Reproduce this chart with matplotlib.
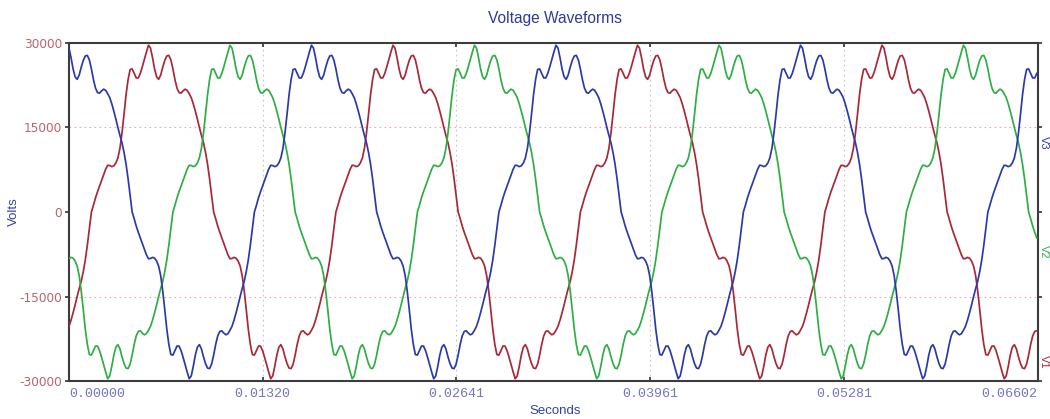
import numpy as np
import matplotlib
matplotlib.use("Agg")
import matplotlib.pyplot as plt

# One half cycle of the phase voltage (V), sampled every 3 electrical degrees
# starting at the rising zero crossing; the second half is the mirror image.
step_deg = 3
half_cycle_volts = [
    0, 1200, 2500, 3600, 4600, 5600, 6600, 7600, 8300, 8250,
    8050, 8200, 8700, 9600, 11300, 14000, 17300, 20800, 23500, 25300,
    25400, 24600, 23800, 23800, 24600, 25800, 27100, 28400, 29600, 29100,
    27400, 25400, 24000, 23550, 24300, 25700, 26900, 27700, 27800, 27000,
    25400, 23500, 22000, 21200, 21100, 21500, 21800, 21600, 21000, 20300,
    19200, 17900, 16500, 15000, 13600, 12300, 10600, 8500, 5900, 3000,
]
freq_hz = 60.0
t_end = 0.066022

# Electrical angle of each phase at t = 0 (degrees)
phase_names = ["V1", "V2", "V3"]
phase_start_deg = [-33, -153, 87]
phase_colors = ["#a8283a", "#2fae45", "#2c3aa8"]

y_ticks = [-30000, -15000, 0, 15000, 30000]
x_tick_labels = ["0.00000", "0.01320", "0.02641", "0.03961", "0.05281", "0.06602"]

# ---- build series --------------------------------------------------------
half = np.array(half_cycle_volts, dtype=float)
cycle = np.concatenate([half, -half])
n_cycle = len(cycle)
dt = 1.0 / (freq_hz * n_cycle)
n = int(t_end / dt) + 1
t = np.arange(n) * dt
k = np.arange(n)

series = {}
for name, start in zip(phase_names, phase_start_deg):
    idx = (k + start // step_deg) % n_cycle
    series[name] = cycle[idx]

# ---- figure ---------------------------------------------------------------
W, H = 1050, 419
fig = plt.figure(figsize=(W / 100, H / 100), dpi=100)
ax_left, ax_right, ax_top, ax_bottom = 69, 1037.5, 43, 381
ax = fig.add_axes([ax_left / W, 1 - ax_bottom / H,
                   (ax_right - ax_left) / W, (ax_bottom - ax_top) / H])

for name, color in zip(phase_names, phase_colors):
    ax.plot(t, series[name], color=color, lw=1.25, solid_joinstyle="round", zorder=3)

ax.set_xlim(0, t_end)
ax.set_ylim(-30000, 30000)

xt = np.linspace(0, t_end, len(x_tick_labels))
ax.set_xticks(xt)
ax.set_xticklabels(x_tick_labels, family="Liberation Mono", fontsize=9.6,
                   color="#7474c6")
labels = ax.get_xticklabels()
labels[0].set_ha("left")
labels[-1].set_ha("right")

ax.set_yticks(y_ticks)
ax.set_yticklabels([str(v) for v in y_ticks], family="DejaVu Sans",
                   fontsize=8.7, color="#b9636f")

ax.tick_params(axis="x", direction="in", length=3, width=1.2, pad=5,
               top=True, color="#333333")
ax.tick_params(axis="y", direction="out", length=3, width=1.2, pad=2,
               color="#333333")
ax.tick_params(axis="y", which="both", right=True)
# right-hand ticks point inward
for tl in ax.yaxis.get_ticklines()[1::2]:
    tl.set_marker(matplotlib.lines.TICKRIGHT)

for sp in ax.spines.values():
    sp.set_color("#3c3c3c")
    sp.set_linewidth(1.5)

# dotted grid: reddish horizontals, grey verticals
for yv in (-15000, 15000):
    ax.axhline(yv, color="#eaa8b0", lw=0.8, ls=(0, (1.5, 3)), zorder=1)
for xv in xt[1:-1]:
    ax.axvline(xv, color="#c4c4c4", lw=0.8, ls=(0, (1.5, 3)), zorder=1)

# titles and axis labels
fig.text(555 / W, 1 - 18 / H, "Voltage Waveforms", ha="center", va="center",
         family="Liberation Sans", fontsize=11.2, color="#2f3c98")
fig.text(555 / W, 1 - 411 / H, "Seconds", ha="center", va="center",
         family="Liberation Sans", fontsize=9.5, color="#3442a2")
fig.text(14 / W, 1 - 212 / H, "Volts", ha="center", va="center", rotation=90,
         family="Liberation Sans", fontsize=9.5, color="#3442a2")

# series names along the right edge
for name, color, ypx in zip(["V3", "V2", "V1"],
                            [phase_colors[2], phase_colors[1], phase_colors[0]],
                            [143, 252, 362]):
    fig.text(1043.8 / W, 1 - ypx / H, name, rotation=270,
             ha="center", va="center", family="Liberation Sans", fontsize=8,
             color=color)

fig.savefig("out.png", dpi=100, facecolor="white")
